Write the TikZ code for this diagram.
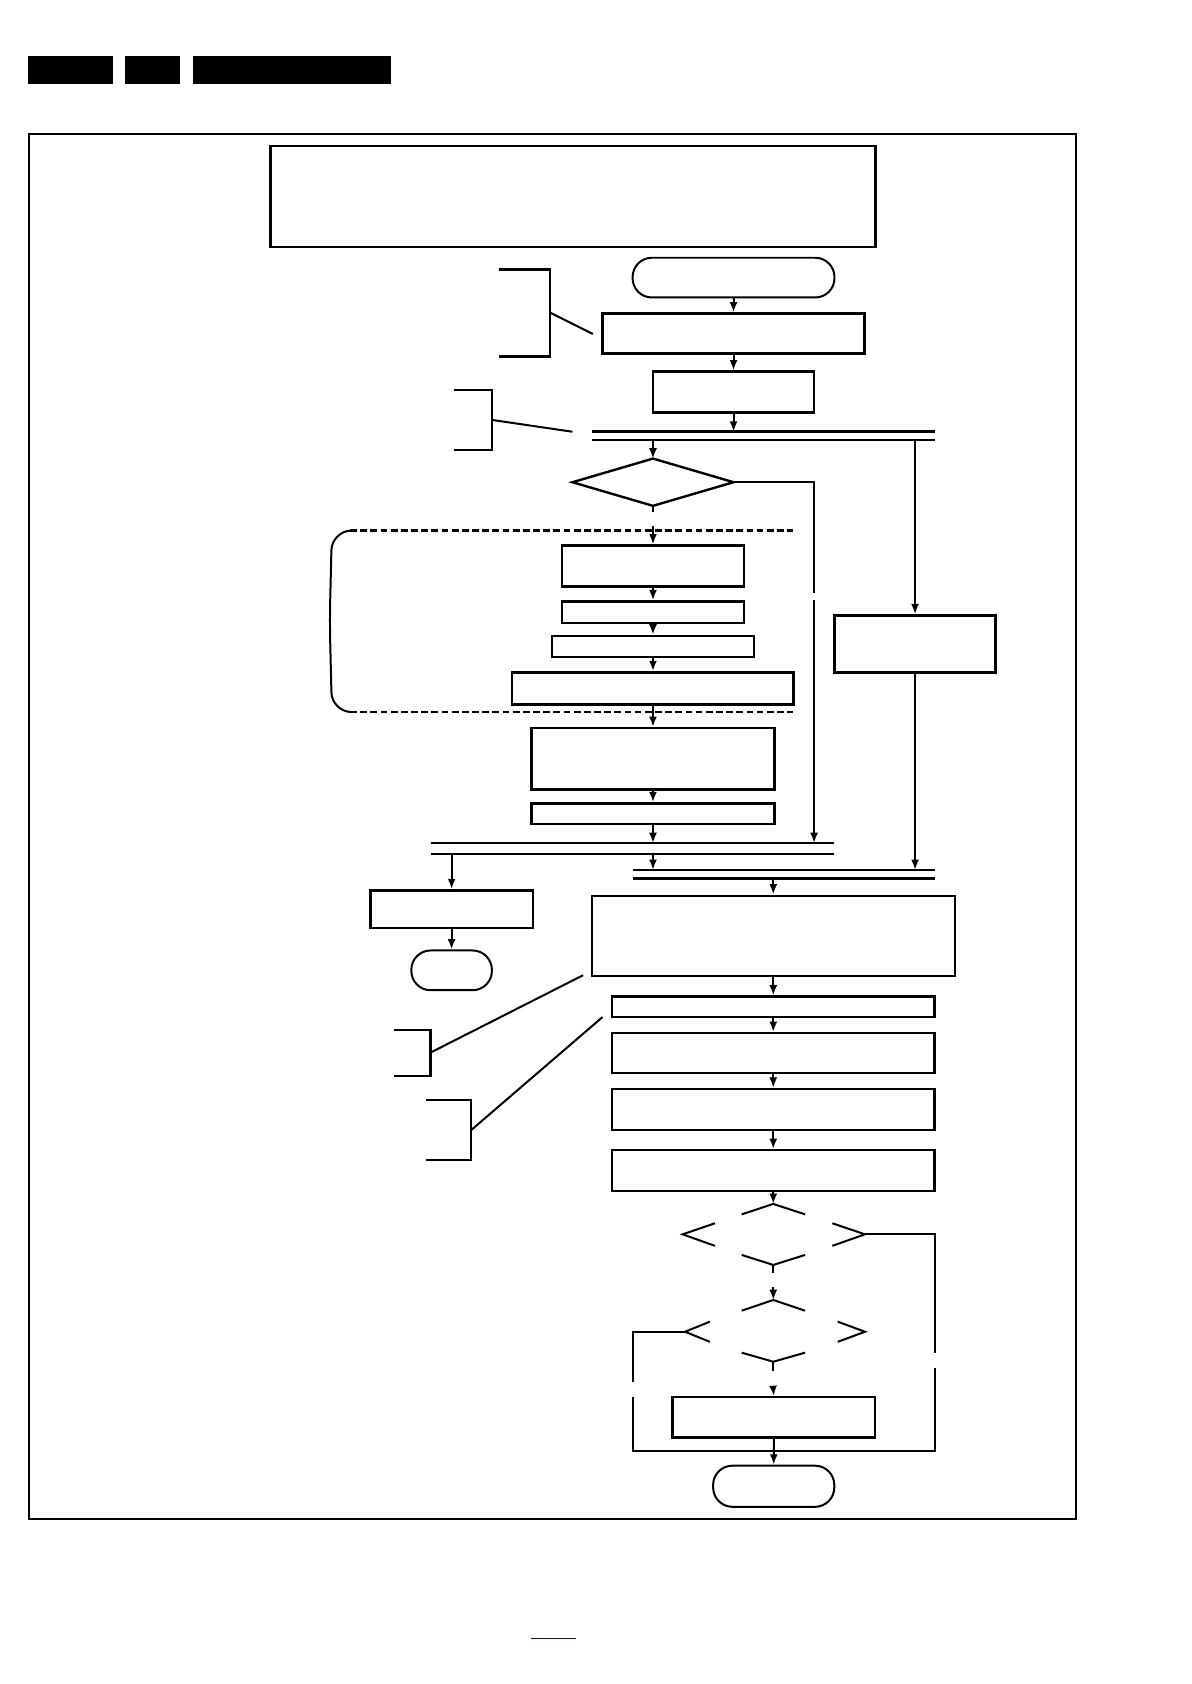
\documentclass[tikz,border=0pt]{standalone}
\usetikzlibrary{arrows.meta,fit}
\begin{document}
\begin{tikzpicture}[x=0.1894mm,y=-0.1894mm,
  box/.style={draw,line width=1.2pt,inner sep=0pt},
  term/.style={draw,line width=1pt,inner sep=0pt,rounded corners=3.4mm},
  ln/.style={line width=1pt},
  arr/.style={line width=1pt,-{Latex[length=5.2pt,width=4pt]}},
  dsh/.style={line width=1.2pt,dash pattern=on 3.4pt off 1.7pt}]
\useasboundingbox (0,0) rectangle (1109,1568);
% header bars
\fill (26,52) rectangle (105,78);
\fill (116,52) rectangle (168,78);
\fill (180,52) rectangle (364,78);
% frame
\draw[line width=0.9pt] (27,125) rectangle (1002,1414);
% top text box
\node[box,line width=1.4pt,fit={(252,136)(815,230)}] (top) {};
% start
\node[term,fit={(589,240)(777,277)}] (start) {};
\node[box,fit={(561,292)(805,329)}] (b1) {};
\node[box,fit={(608,346)(758,384)}] (b2) {};
\draw[arr] (start) -- (b1);
\draw[arr] (b1) -- (b2);
% double line 1
\coordinate (j1a) at (551,402); \coordinate (j1b) at (871,402);
\coordinate (j1c) at (551,410); \coordinate (j1d) at (871,410);
\draw[line width=1.7pt] (j1a) -- (j1b);
\draw[ln] (j1c) -- (j1d);
\draw[arr] (b2.south) -- (b2.south |- j1a);
% brackets top
\coordinate (br1) at (512,291); \coordinate (br1e) at (552,311);
\draw[line width=1.2pt] (465,251) -- (512,251) -- (512,332) -- (465,332);
\draw[ln] (br1) -- (br1e);
\coordinate (br2) at (458,391); \coordinate (br2e) at (533,402);
\draw[line width=1.2pt] (423,363) -- (458,363) -- (458,419) -- (423,419);
\draw[ln] (br2) -- (br2e);
% diamond 1
\coordinate (d1l) at (533,449); \coordinate (d1t) at (608,427);
\coordinate (d1r) at (683,449); \coordinate (d1b) at (608,471);
\draw[line width=1.2pt] (d1l) -- (d1t) -- (d1r) -- (d1b) -- cycle;
\draw[arr] (d1t |- j1c) -- (d1t);
% right box
\node[box,fit={(777,573)(927,626)}] (bR) {};
\draw[arr] (bR.north |- j1c) -- (bR.north);
% dashed group
\draw[dsh] (326,494) -- (738,494);
\draw[dsh] (326,663) -- (738,663);
\draw[ln,rounded corners=3.5mm] (328,494) -- (309,494) -- (307,578) -- (309,663) -- (328,663);
\node[box,fit={(523,508)(693,546)}] (bA) {};
\node[box,fit={(523,560)(693,580)}] (bB) {};
\node[box,fit={(514,592)(702,612)}] (bC) {};
\node[box,fit={(477,626)(739,656)}] (bD) {};
\node[box,fit={(495,678)(721,735)}] (bE) {};
\node[box,fit={(495,748)(721,767)}] (bF) {};
\draw[ln] (d1b) -- ++(0,6);
\draw[arr] (608,490) -- (bA.north);
\draw[arr] (bA) -- (bB);
\draw[arr] (bB) -- (bC);
\draw[arr] (bC) -- (bD);
\draw[arr] (bD) -- (bE);
\draw[arr] (bE) -- (bF);
% double line 2
\coordinate (j2a) at (401,785); \coordinate (j2b) at (777,785);
\coordinate (j2c) at (401,795); \coordinate (j2d) at (777,795);
\draw[ln] (j2a) -- (j2b);
\draw[ln] (j2c) -- (j2d);
\draw[arr] (bF.south) -- (bF.south |- j2a);
% right branch of diamond 1
\draw[ln] (d1r) -- (758,449) -- (758,552);
\draw[arr] (758,559) -- (758,785);
% left exit
\node[box,fit={(345,829)(496,864)}] (bG) {};
\node[term,fit={(383,885)(458,922)}] (tG) {};
\draw[arr] (bG.north |- j2c) -- (bG.north);
\draw[arr] (bG) -- (tG);
% double line 3
\coordinate (j3a) at (589,810); \coordinate (j3b) at (871,810);
\coordinate (j3c) at (589,818); \coordinate (j3d) at (871,818);
\draw[ln] (j3a) -- (j3b);
\draw[line width=1.7pt] (j3c) -- (j3d);
\draw[arr] (608,795) -- (608,810);
\draw[arr] (bR.south) -- (bR.south |- j3a);
% main chain
\node[box,fit={(551,834)(889,909)}] (bH) {};
\node[box,fit={(570,928)(870,947)}] (bI) {};
\node[box,fit={(570,962)(870,999)}] (bJ) {};
\node[box,fit={(570,1014)(870,1052)}] (bK) {};
\node[box,fit={(570,1071)(870,1109)}] (bL) {};
\draw[arr] (bH.north |- j3c) -- (bH.north);
\draw[arr] (bH) -- (bI);
\draw[arr] (bI) -- (bJ);
\draw[arr] (bJ) -- (bK);
\draw[arr] (bK) -- (bL);
% brackets lower
\coordinate (br3) at (401,980); \coordinate (br3e) at (543,908);
\draw[line width=1.2pt] (367,959) -- (401,959) -- (401,1002) -- (367,1002);
\draw[ln] (br3) -- (br3e);
\coordinate (br4) at (439,1052); \coordinate (br4e) at (561,947);
\draw[ln] (397,1024) -- (439,1024) -- (439,1080) -- (397,1080);
\draw[ln] (br4) -- (br4e);
% diamond 2 (gapped)
\coordinate (e1t) at (720,1121); \coordinate (e1l) at (635.6,1149.3);
\coordinate (e1r) at (805.4,1149.3); \coordinate (e1b) at (720,1177.8);
\draw[arr] (bL.south) -- (e1t);
\draw[ln] (690.6,1130.7) -- (e1t) -- (749.6,1130.7);
\draw[ln] (665.7,1139) -- (e1l) -- (665.7,1160);
\draw[ln] (775,1139) -- (e1r) -- (775,1160);
\draw[ln] (690.6,1168.5) -- (e1b) -- (749.6,1168.5);
\draw[ln] (e1b) -- (720,1185.6);
% diamond 3 (gapped)
\coordinate (e2t) at (720,1210.4); \coordinate (e2l) at (637.8,1240);
\coordinate (e2r) at (805.4,1240); \coordinate (e2b) at (720,1267.9);
\draw[arr] (720,1198.6) -- (e2t);
\draw[ln] (690.6,1220.4) -- (e2t) -- (749.6,1220.4);
\draw[ln] (661,1230.6) -- (e2l) -- (661,1249.4);
\draw[ln] (780,1230.6) -- (e2r) -- (780,1249.4);
\draw[ln] (690.6,1259.5) -- (e2b) -- (749.6,1259.5);
\draw[ln] (e2b) -- (720,1276.2);
% last box and end
\node[box,fit={(626.3,1301)(814.7,1338.6)}] (bM) {};
\node[term,fit={(664,1364.7)(776.8,1403)}] (tEnd) {};
\draw[arr] (720,1293.6) -- (bM.north);
\draw[arr] (bM) -- (tEnd);
% loop lines
\draw[ln] (e1r) -- (870.6,1149.3) -- (870.6,1260);
\draw[ln] (870.6,1274) -- (870.6,1350.7) -- (589,1350.7) -- (589,1300.4);
\draw[ln] (589,1286.5) -- (589,1240) -- (e2l);
% link line
\draw[blue!80!black,line width=0.8pt] (494,1525.5) -- (536,1525.5);
\end{tikzpicture}
\end{document}
